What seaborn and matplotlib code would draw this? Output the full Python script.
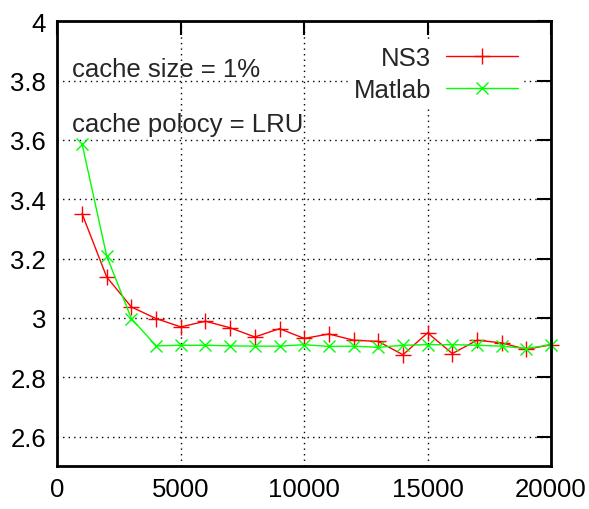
import numpy as np
import pandas as pd
import matplotlib
matplotlib.use("Agg")
import matplotlib.pyplot as plt
import seaborn as sns

# Data
cache_items = [1000, 2000, 3000, 4000, 5000, 6000, 7000, 8000, 9000, 10000,
               11000, 12000, 13000, 14000, 15000, 16000, 17000, 18000, 19000, 20000]
ns3_vals = [3.352, 3.138, 3.037, 2.998, 2.970, 2.989, 2.967, 2.936, 2.964, 2.931,
            2.946, 2.925, 2.921, 2.876, 2.950, 2.880, 2.925, 2.916, 2.894, 2.910]
matlab_vals = [3.588, 3.209, 2.998, 2.906, 2.908, 2.908, 2.906, 2.905, 2.905, 2.910,
               2.904, 2.905, 2.901, 2.908, 2.910, 2.910, 2.908, 2.905, 2.897, 2.910]

x_ticks = [0, 5000, 10000, 15000, 20000]
y_ticks = [2.6, 2.8, 3.0, 3.2, 3.4, 3.6, 3.8, 4.0]
y_tick_labels = ["2.6", "2.8", "3", "3.2", "3.4", "3.6", "3.8", "4"]
notes = ["cache size = 1%", "cache polocy = LRU"]

sns.set_style("white")
plt.rcParams['font.family'] = ['Liberation Sans Narrow', 'Liberation Sans', 'DejaVu Sans']
fs = 18.5

df_ns3 = pd.DataFrame({'x': cache_items, 'y': ns3_vals})
df_mat = pd.DataFrame({'x': cache_items, 'y': matlab_vals})

fig = plt.figure(figsize=(5.89, 5.10), dpi=100)
ax = fig.add_axes([0.0973, 0.0837, 0.8383, 0.8726])

sns.lineplot(data=df_ns3, x='x', y='y', ax=ax, color='#ff0000', lw=1.0,
             marker='+', markersize=11, markeredgewidth=1.0, markeredgecolor='#ff0000',
             label='NS3', clip_on=False)
sns.lineplot(data=df_mat, x='x', y='y', ax=ax, color='#00ff00', lw=1.0,
             marker='x', markersize=9, markeredgewidth=1.0, markeredgecolor='#00ff00',
             label='Matlab', clip_on=False)

ax.set_xlim(0, 20000)
ax.set_ylim(2.5, 4.0)
ax.set_xticks(x_ticks)
ax.set_xticklabels([str(v) for v in x_ticks])
ax.set_yticks(y_ticks)
ax.set_yticklabels(y_tick_labels)
ax.set_xlabel("")
ax.set_ylabel("")

ax.grid(True, color='black', linestyle=(0, (1, 3)), linewidth=1.0)
ax.set_axisbelow(True)
for s in ax.spines.values():
    s.set_color('black')
    s.set_linewidth(2.0)
ax.tick_params(axis='both', which='major', direction='in', length=10, width=1.5,
               top=True, right=True, labelsize=fs, pad=8, colors='black')

ax.text(0.03, 0.893, notes[0], transform=ax.transAxes, fontsize=fs, va='center', ha='left')
ax.text(0.03, 0.769, notes[1], transform=ax.transAxes, fontsize=fs, va='center', ha='left')

leg = ax.legend(loc='upper right', bbox_to_anchor=(0.97, 0.985), markerfirst=False,
                fontsize=fs, frameon=True, fancybox=False, handlelength=2.8,
                handletextpad=0.6, labelspacing=0.3, borderpad=0.2)
leg.get_frame().set_facecolor('white')
leg.get_frame().set_edgecolor('white')
leg.get_frame().set_alpha(1.0)

fig.savefig("out.png", dpi=100)
